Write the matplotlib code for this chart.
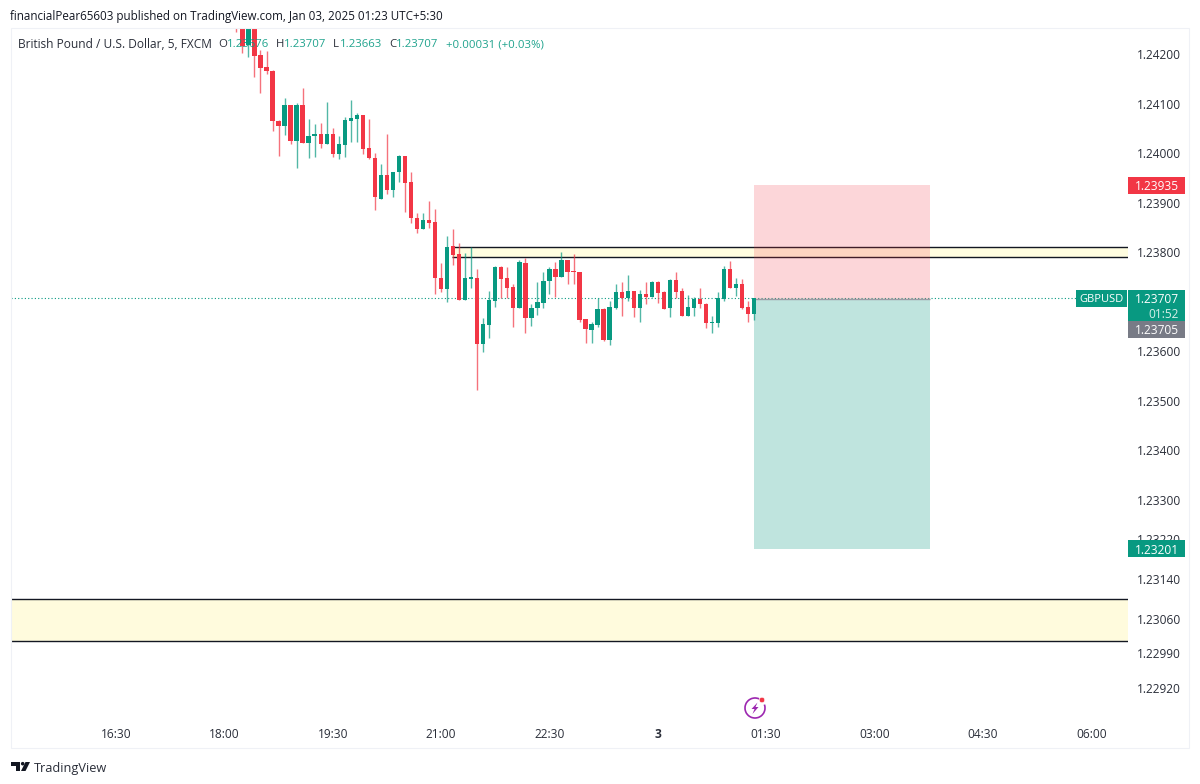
import matplotlib
matplotlib.use('Agg')
import matplotlib.pyplot as plt
from matplotlib.patches import Rectangle, Circle, Polygon, Arc
import numpy as np

plt.rcParams['font.family'] = ['Open Sans', 'DejaVu Sans']

first_bar = 20  # bars counted in 5 min steps from 16:30

opens = [1.2428, 1.2428, 1.24218, 1.2428, 1.24197, 1.24173, 1.24166, 1.24065, 1.24055, 1.24097,
         1.24024, 1.24098, 1.24021, 1.24034, 1.24038, 1.24018, 1.24038, 1.23998, 1.24016, 1.24065,
         1.24069, 1.24076, 1.24010, 1.23991, 1.23908, 1.23956, 1.23925, 1.23962, 1.23994, 1.23941,
         1.23869, 1.23846, 1.23865, 1.23861, 1.23748, 1.23725, 1.23812, 1.23797, 1.23703, 1.23746,
         1.23748, 1.23614, 1.23653, 1.23701, 1.23770, 1.23747, 1.23729, 1.23688, 1.23778, 1.23666,
         1.23688, 1.23698, 1.23741, 1.23766, 1.23749, 1.23784, 1.23762, 1.23760, 1.23664, 1.23643,
         1.23653, 1.23685, 1.23622, 1.23687, 1.23719, 1.23707, 1.23721, 1.23687, 1.23715, 1.23709,
         1.23740, 1.23719, 1.23687, 1.23744, 1.23721, 1.23672, 1.23688, 1.23705, 1.23696, 1.23656,
         1.23656, 1.23705, 1.23766, 1.23727, 1.23735, 1.23690, 1.23676]
highs = [1.2430, 1.2429, 1.2429, 1.2429, 1.24208, 1.24207, 1.24168, 1.24067, 1.24111, 1.24098,
         1.24102, 1.24131, 1.24069, 1.24059, 1.24060, 1.24104, 1.24051, 1.24034, 1.24072, 1.24108,
         1.24081, 1.24077, 1.24069, 1.24001, 1.23977, 1.24038, 1.23962, 1.23996, 1.23994, 1.23962,
         1.23879, 1.23878, 1.23904, 1.23887, 1.23779, 1.23832, 1.23847, 1.23818, 1.23799, 1.23810,
         1.23766, 1.23666, 1.23722, 1.23772, 1.23772, 1.23769, 1.23735, 1.23784, 1.23789, 1.23696,
         1.23740, 1.23759, 1.23770, 1.23780, 1.23801, 1.23785, 1.23797, 1.23760, 1.23664, 1.23658,
         1.23708, 1.23687, 1.23701, 1.23735, 1.23740, 1.23754, 1.23721, 1.23723, 1.23739, 1.23742,
         1.23742, 1.23721, 1.23745, 1.23759, 1.23727, 1.23713, 1.23710, 1.23727, 1.23698, 1.23671,
         1.23719, 1.23772, 1.23782, 1.23747, 1.23745, 1.23701, 1.23707]
lows = [1.24245, 1.24203, 1.24193, 1.24153, 1.24121, 1.24160, 1.24044, 1.23995, 1.24036, 1.24018,
        1.23970, 1.24020, 1.23991, 1.23993, 1.24010, 1.24018, 1.23993, 1.23989, 1.23993, 1.24022,
        1.24023, 1.23998, 1.23989, 1.23885, 1.23908, 1.23917, 1.23912, 1.23941, 1.23881, 1.23858,
        1.23839, 1.23846, 1.23849, 1.23715, 1.23720, 1.23700, 1.23774, 1.23703, 1.23703, 1.23728,
        1.23521, 1.23599, 1.23626, 1.23690, 1.23707, 1.23708, 1.23649, 1.23688, 1.23637, 1.23651,
        1.23674, 1.23688, 1.23715, 1.23709, 1.23749, 1.23735, 1.23735, 1.23658, 1.23616, 1.23617,
        1.23649, 1.23621, 1.23612, 1.23685, 1.23671, 1.23702, 1.23670, 1.23659, 1.23696, 1.23709,
        1.23698, 1.23685, 1.23668, 1.23707, 1.23671, 1.23671, 1.23672, 1.23688, 1.23647, 1.23637,
        1.23649, 1.23701, 1.23727, 1.23711, 1.23685, 1.23659, 1.23663]
closes = [1.2426, 1.24216, 1.2428, 1.24196, 1.24172, 1.24165, 1.24065, 1.24055, 1.24097, 1.24024,
          1.24098, 1.24021, 1.24034, 1.24038, 1.24018, 1.24038, 1.23998, 1.24018, 1.24067, 1.24071,
          1.24076, 1.24008, 1.23990, 1.23911, 1.23956, 1.23925, 1.23962, 1.23994, 1.23940, 1.23868,
          1.23846, 1.23865, 1.23859, 1.23748, 1.23725, 1.23810, 1.23794, 1.23703, 1.23748, 1.23750,
          1.23614, 1.23655, 1.23703, 1.23770, 1.23745, 1.23728, 1.23688, 1.23780, 1.23666, 1.23688,
          1.23699, 1.23741, 1.23766, 1.23749, 1.23784, 1.23760, 1.23760, 1.23663, 1.23644, 1.23655,
          1.23685, 1.23622, 1.23689, 1.23719, 1.23707, 1.23721, 1.23687, 1.23715, 1.23709, 1.23740,
          1.23717, 1.23686, 1.23744, 1.23719, 1.23672, 1.23690, 1.23705, 1.23695, 1.23656, 1.23658,
          1.23707, 1.23766, 1.23728, 1.23735, 1.23688, 1.23676, 1.23707]

price_ticks = [1.24200, 1.24100, 1.24000, 1.23900, 1.23800, 1.23600, 1.23500, 1.23400, 1.23300,
               1.23220, 1.23140, 1.23060, 1.22990, 1.22920]
time_ticks = [0, 18, 36, 54, 72, 90, 108, 126, 144, 162]
time_labels = ['16:30', '18:00', '19:30', '21:00', '22:30', '3', '01:30', '03:00', '04:30', '06:00']

last_price = 1.23707
entry_price = 1.23705
stop_price = 1.23935
target_price = 1.23201
position_start = 106
position_end = 135.2
upper_zone = [1.23790, 1.23811]
upper_zone_start = 55.8
lower_zone = [1.23014, 1.23099]

UP = '#089981'
DOWN = '#f23645'
TEXT = '#131722'
LABEL = '#2a2e39'
W, H = 1200, 784

fig = plt.figure(figsize=(W / 100, H / 100), dpi=100, facecolor='white')
ax = fig.add_axes([11 / W, (H - 720) / H, 1117 / W, 692 / H])
ax.set_xlim(-17.44, 168.1)
ax.set_ylim(1.24200 - 666 * 0.00002019, 1.24200 + 26 * 0.00002019)
for s in ax.spines.values():
    s.set_visible(False)

# zones
ax.axhspan(lower_zone[0], lower_zone[1], color='#fffbdd', lw=0, zorder=1)
ax.axhline(lower_zone[0], color=TEXT, lw=1.0, zorder=2)
ax.axhline(lower_zone[1], color=TEXT, lw=1.0, zorder=2)
xmax = ax.get_xlim()[1]
ax.fill_between([upper_zone_start, xmax], upper_zone[0], upper_zone[1], color='#fffde0', lw=0, zorder=1)
ax.hlines(upper_zone, upper_zone_start, xmax, color=TEXT, lw=1.0, zorder=2.5)

ax.axhline(last_price, color=UP, lw=0.8, ls=(0, (1, 2)), zorder=1.5)

# long position tool
ax.fill_between([position_start, position_end], entry_price, stop_price, color=DOWN, alpha=0.2, lw=0, zorder=3)
ax.fill_between([position_start, position_end], target_price, entry_price, color=UP, alpha=0.26, lw=0, zorder=3)
ax.hlines(entry_price, position_start, position_end, color='#9a9ca5', lw=1, zorder=3.5)

# candles
bars = np.arange(len(opens)) + first_bar
o = np.array(opens)
c = np.array(closes)
colors = [UP if b >= a else DOWN for a, b in zip(o, c)]
ax.vlines(bars, lows, highs, colors=colors, lw=1.0, alpha=0.7, zorder=4)
ax.bar(bars, np.abs(c - o), bottom=np.minimum(o, c), width=0.72, color=colors, lw=0, zorder=5)

ax.yaxis.tick_right()
ax.set_yticks(price_ticks)
ax.set_yticklabels(['%.5f' % p for p in price_ticks], fontsize=8.6, color=LABEL, va='center_baseline')
ax.set_xticks(time_ticks)
ax.set_xticklabels(time_labels, fontsize=8.6, color=LABEL)
ax.get_xticklabels()[5].set_fontweight('bold')
ax.tick_params(length=0)
ax.tick_params(axis='y', pad=6.5)
ax.tick_params(axis='x', pad=6)

# overlay in pixels for frame, tags, legend and logo
ov = fig.add_axes([0, 0, 1, 1], facecolor='none')
ov.set_xlim(0, W)
ov.set_ylim(H, 0)
ov.axis('off')
ov.add_patch(Rectangle((11, 28), 1178, 720, fc='none', ec='#eff1f6', lw=0.8))

ymin, ymax = ax.get_ylim()


def price_y(p):
    return 28 + (ymax - p) / (ymax - ymin) * 692


def tag(p, txt, color):
    y = price_y(p)
    ov.add_patch(Rectangle((1128, y - 8.5), 57, 17, fc=color, ec='none'))
    ov.text(1179, y, txt, color='white', fontsize=8.6, ha='right', va='center_baseline')


tag(stop_price, '%.5f' % stop_price, DOWN)
tag(target_price, '%.5f' % target_price, UP)
y_last = price_y(last_price)
ov.add_patch(Rectangle((1128, y_last - 8), 57, 31, fc=UP, ec='none'))
ov.text(1179, y_last, '%.5f' % last_price, color='white', fontsize=8.6, ha='right', va='center_baseline')
ov.text(1179, y_last + 15, '01:52', color='#d5efe9', fontsize=8.6, ha='right', va='center_baseline')
ov.add_patch(Rectangle((1128, y_last + 23), 57, 17, fc='#787b86', ec='none'))
ov.text(1179, y_last + 31, '%.5f' % entry_price, color='white', fontsize=8.6, ha='right', va='center_baseline')
ov.add_patch(Rectangle((1076, y_last - 8), 51, 17, fc=UP, ec='none'))
ov.text(1101.5, y_last, 'GBPUSD', color='white', fontsize=8, ha='center', va='center_baseline')

# header + legend
ov.text(10, 15, 'financialPear65603 published on TradingView.com, Jan 03, 2025 01:23 UTC+5:30',
        fontsize=8.4, color=TEXT, va='center_baseline')
ov.text(18.5, 43, 'British Pound / U.S. Dollar, 5, FXCM', fontsize=8.6, color=LABEL, va='center_baseline')
legend = [(218, 'O', 227, '1.23676'), (276, 'H', 284, '1.23707'),
          (333, 'L', 339.5, '1.23663'), (389, 'C', 396, '1.23707')]
for x1, name, x2, val in legend:
    ov.text(x1, 43, name, fontsize=8.2, color=LABEL, va='center_baseline')
    ov.text(x2, 43, val, fontsize=8.2, color=UP, alpha=0.9, va='center_baseline')
ov.text(446, 43, '+0.00031 (+0.03%)', fontsize=8.2, color=UP, alpha=0.9, va='center_baseline')

# lightning icon
ov.add_patch(Arc((755, 708), 20, 20, theta1=-20, theta2=300, ec='#9c27b0', lw=1.2))
ov.add_patch(Polygon([(757.5, 702.5), (751.5, 709), (754.5, 709), (752.5, 714), (758.5, 707), (755.5, 707)],
                     fc='#9c27b0', ec='none'))
ov.add_patch(Circle((762, 700), 2.8, fc=DOWN, ec='white', lw=0.5))

# TradingView logo
ov.add_patch(Polygon([(11, 762), (20, 762), (20, 771), (15.5, 771), (15.5, 765.5), (11, 765.5)], fc='#131722', ec='none'))
ov.add_patch(Circle((22.7, 763.7), 1.8, fc='#131722', ec='none'))
ov.add_patch(Polygon([(25.5, 762), (30, 762), (25.5, 771), (21, 771)], fc='#131722', ec='none'))
ov.text(34, 767, 'TradingView', fontsize=9.2, color=LABEL, va='center_baseline')

fig.savefig('out.png', dpi=100)
